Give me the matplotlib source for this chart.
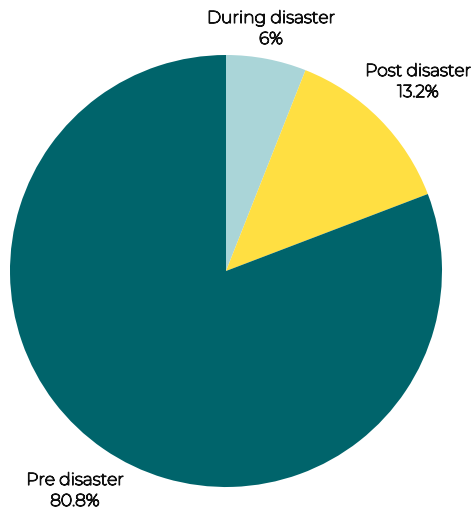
import matplotlib
matplotlib.use("Agg")
import matplotlib.pyplot as plt
import matplotlib.patheffects as pe

labels = ["During disaster", "Post disaster", "Pre disaster"]
shares = [6.0, 13.2, 80.8]
colors = ["#AAD5D8", "#FFDF42", "#00646B"]

W, H = 474, 510
fig = plt.figure(figsize=(W / 100, H / 100), dpi=100)
plt.rcParams["font.family"] = ["Montserrat", "Lato", "DejaVu Sans"]

# pie centred at (226, 272) px, radius 216 px
cx, cy, r = 226, 272, 216
ax = fig.add_axes([(cx - r) / W, (H - cy - r) / H, 2 * r / W, 2 * r / H])
ax.pie(shares, colors=colors, startangle=90, counterclock=False,
       radius=1.0, wedgeprops=dict(linewidth=0))
ax.set_xlim(-1, 1); ax.set_ylim(-1, 1); ax.set_aspect("equal"); ax.axis("off")

# the installed Montserrat only comes in a light cut, so thicken it with a stroke
ink = "#111111"
thick = [pe.withStroke(linewidth=0.9, foreground=ink)]

# label positions in pixels (x, y of the name line)
pos = [(271, 19), (418, 72), (75, 481)]
for (x, y), name, v in zip(pos, labels, shares):
    for yy, s in ((y, name), (y + 21, f"{v:g}%")):
        fig.text(x / W, 1 - yy / H, s, ha="center", va="center",
                 fontsize=12.3, color=ink, path_effects=thick)

fig.savefig("out.png", dpi=100)
